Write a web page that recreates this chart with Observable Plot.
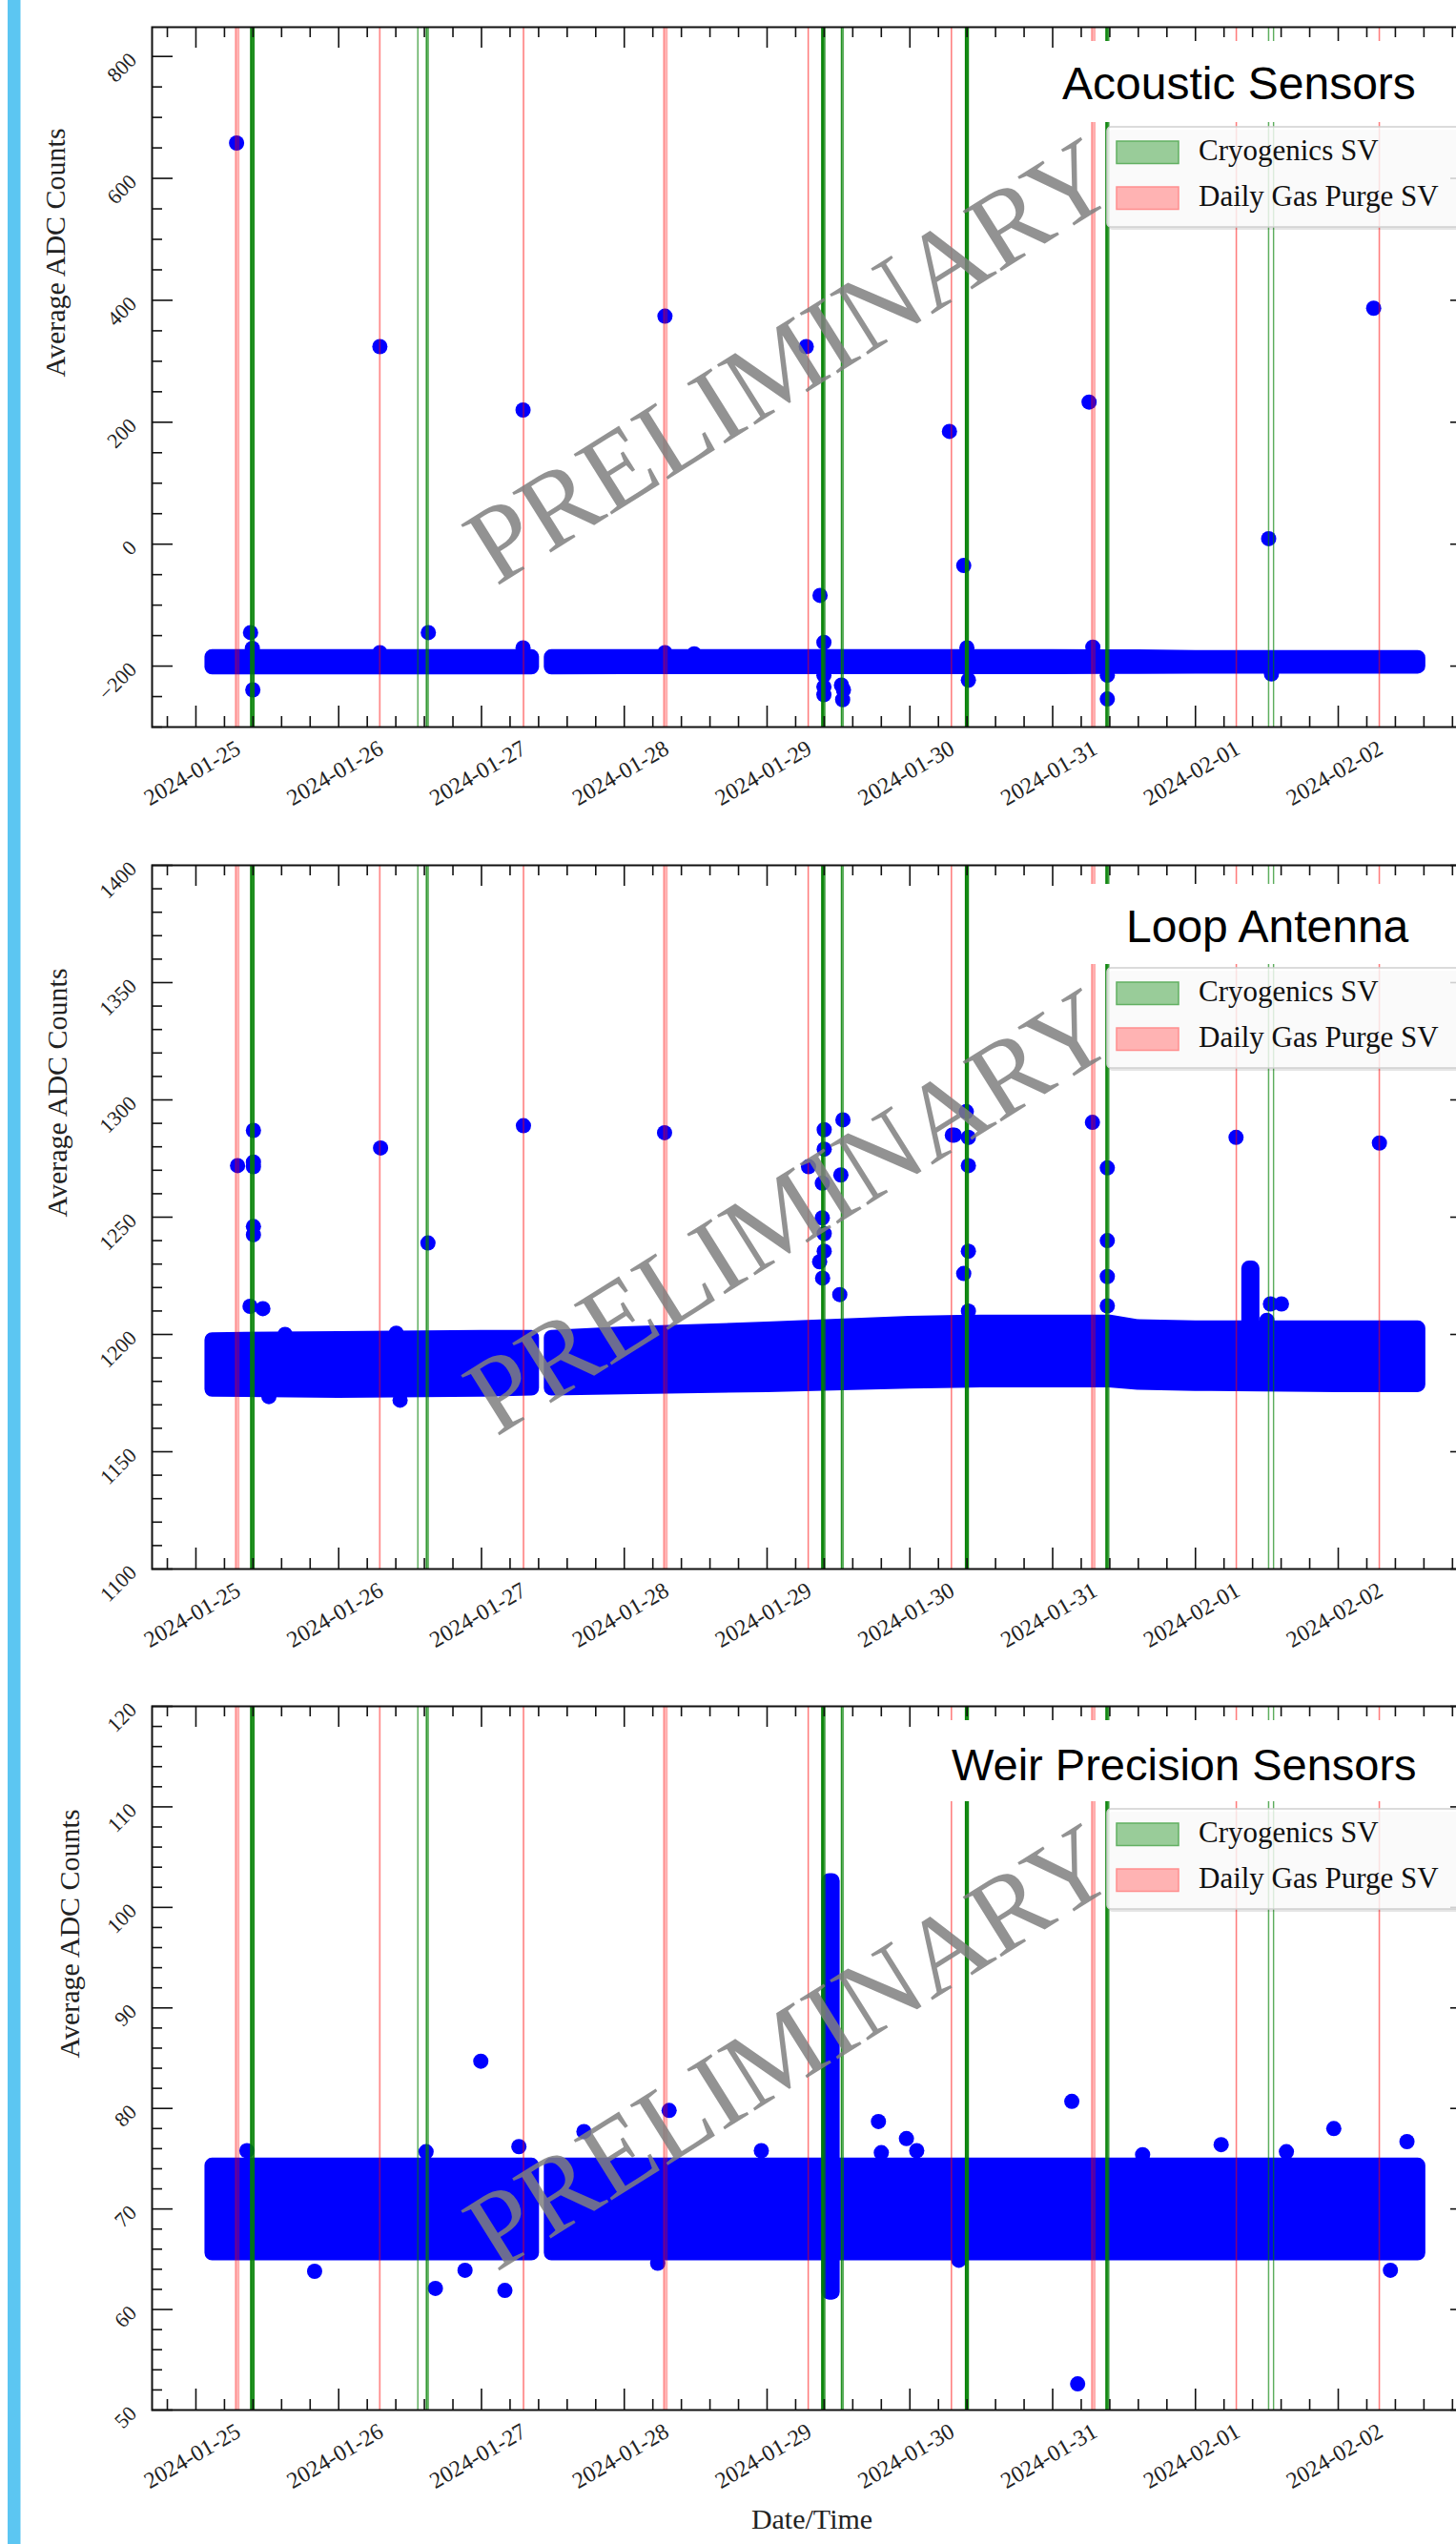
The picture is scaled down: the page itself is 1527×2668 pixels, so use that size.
<!DOCTYPE html>
<html><head><meta charset="utf-8">
<script src="https://cdn.jsdelivr.net/npm/d3@7"></script>
<script src="https://cdn.jsdelivr.net/npm/@observablehq/plot@0.6"></script>
<style>
body{margin:0;background:#fff}
#page{position:relative;width:1527px;height:2668px;overflow:hidden;background:#fff}
.panel{position:absolute;left:0;width:1527px;overflow:hidden}
#overlay{position:absolute;left:0;top:0;pointer-events:none}
</style></head><body><div id="page"></div>
<script>
// ================= DATA =================
const dayTicks = ["2024-01-25","2024-01-26","2024-01-27","2024-01-28","2024-01-29","2024-01-30","2024-01-31","2024-02-01","2024-02-02"];
const xDomainText = ["2024-01-24T16:38","2024-02-02T22:26"];

// Daily Gas Purge SV windows
const purgeStart = ["2024-01-25T06:40","2024-01-26T06:52","2024-01-27T07:02","2024-01-28T06:38","2024-01-29T06:53","2024-01-30T06:57","2024-01-31T06:34","2024-02-01T06:50","2024-02-02T06:52"];
const purgeEnd   = ["2024-01-25T07:14","2024-01-26T06:58","2024-01-27T07:08","2024-01-28T07:12","2024-01-29T06:59","2024-01-30T07:03","2024-01-31T07:08","2024-02-01T06:56","2024-02-02T06:58"];

// Cryogenics SV windows (count = stacked valve actuations)
const cryoStart = ["2024-01-25T09:13","2024-01-26T13:17","2024-01-26T14:44","2024-01-29T09:12","2024-01-29T12:29","2024-01-30T09:20","2024-01-31T08:58","2024-02-01T12:16","2024-02-01T13:06"];
const cryoEnd   = ["2024-01-25T09:47","2024-01-26T13:21","2024-01-26T15:04","2024-01-29T09:42","2024-01-29T12:49","2024-01-30T09:50","2024-01-31T09:26","2024-02-01T12:20","2024-02-01T13:10"];
const cryoCount = [4,1,2,5,2,5,4,1,1];

// Dense readings: envelope of the continuous band (segment A / B around the data gap)
const bandTimes = ["2024-01-25T02:48","2024-01-26T00:00","2024-01-27T00:00","2024-01-27T08:28","2024-01-27T11:50","2024-01-28T00:00","2024-01-29T00:00","2024-01-30T00:00","2024-01-30T12:00","2024-01-31T00:00","2024-01-31T09:36","2024-01-31T14:24","2024-02-01T00:00","2024-02-02T00:00","2024-02-02T13:26"];
const bandSeg   = ["A","A","A","A","B","B","B","B","B","B","B","B","B","B","B"];
const acousticLow  = [-202,-202,-202,-202,-202,-201.5,-201.5,-201.5,-201.5,-201.5,-201,-201,-200.5,-200.5,-200.5];
const acousticHigh = [-185.5,-185.5,-185.5,-185.5,-185.5,-185.5,-185.5,-185.5,-185.5,-185.5,-186,-186,-187,-187,-187];
const loopLow  = [1176.5,1176,1176.5,1177,1177,1177.5,1178.5,1180,1180.5,1180.5,1180.5,1179.5,1179,1178.5,1178.5];
const loopHigh = [1197.5,1198,1198.5,1198.5,1198.5,1200,1202,1204.5,1205,1205,1205,1203,1202.5,1202.5,1202.5];
const weirLow  = [65.6,65.6,65.6,65.6,65.6,65.6,65.6,65.6,65.6,65.6,65.6,65.6,65.6,65.6,65.6];
const weirHigh = [74.3,74.3,74.3,74.3,74.3,74.3,74.3,74.3,74.3,74.3,74.3,74.3,74.3,74.3,74.3];

// Dense bursts
const loopBurstTimes = ["2024-02-01T09:04","2024-02-01T09:33"];
const loopBurstLow = [1204,1204];
const loopBurstHigh = [1228,1228];
const weirBurstTimes = ["2024-01-29T10:30","2024-01-29T11:00"];
const weirBurstLow = [61.7,61.7];
const weirBurstHigh = [102.6,102.6];

// Isolated readings
const acousticTimes = ["2024-01-25T06:50","2024-01-25T09:11","2024-01-25T09:29","2024-01-25T09:34","2024-01-26T06:55","2024-01-26T06:55","2024-01-26T15:04","2024-01-27T06:59","2024-01-27T06:59","2024-01-28T06:50","2024-01-28T06:50","2024-01-28T11:45","2024-01-29T06:35","2024-01-29T08:54","2024-01-29T09:33","2024-01-29T09:33","2024-01-29T09:33","2024-01-29T09:33","2024-01-29T12:30","2024-01-29T12:50","2024-01-29T12:42","2024-01-30T06:39","2024-01-30T09:03","2024-01-30T09:35","2024-01-30T09:50","2024-01-31T06:07","2024-01-31T06:45","2024-01-31T09:11","2024-01-31T09:11","2024-02-01T12:18","2024-02-01T12:46","2024-02-02T05:57"];
const acousticValues = [658,-145,-171,-239,324,-178,-145,220,-170,374,-178,-180,324,-84,-161,-215,-234,-247,-231,-239,-255,185,-35,-170,-223,233,-169,-254,-215,9,-213,387];

const loopTimes = ["2024-01-25T07:00","2024-01-25T09:40","2024-01-25T09:40","2024-01-25T09:40","2024-01-25T09:40","2024-01-25T09:40","2024-01-25T09:06","2024-01-25T11:15","2024-01-25T12:16","2024-01-25T14:59","2024-01-26T07:02","2024-01-26T09:40","2024-01-26T10:19","2024-01-26T15:00","2024-01-27T07:03","2024-01-28T06:46","2024-01-29T06:58","2024-01-29T09:36","2024-01-29T09:36","2024-01-29T09:17","2024-01-29T09:17","2024-01-29T09:36","2024-01-29T09:36","2024-01-29T08:50","2024-01-29T09:20","2024-01-29T12:45","2024-01-29T12:24","2024-01-29T12:13","2024-01-30T07:08","2024-01-30T09:29","2024-01-30T07:28","2024-01-30T09:50","2024-01-30T09:50","2024-01-30T09:50","2024-01-30T09:03","2024-01-30T09:50","2024-01-31T06:41","2024-01-31T09:11","2024-01-31T09:11","2024-01-31T09:11","2024-01-31T09:11","2024-02-01T06:49","2024-02-01T12:36","2024-02-01T14:27","2024-02-01T12:00","2024-02-02T06:55"];
const loopValues = [1272,1287,1273.5,1271.5,1246,1242.5,1212,1211,1173.5,1200,1279.5,1200.5,1172,1239,1289,1286,1271.5,1287.3,1279,1264.5,1249.7,1243,1235.5,1231,1224,1291.5,1268,1217,1285,1295,1285,1284,1272,1235.5,1226,1210,1290.4,1271,1240,1224.7,1212.2,1284,1213,1213,1206,1281.6];

const weirTimes = ["2024-01-25T19:57","2024-01-25T08:34","2024-01-26T14:41","2024-01-26T16:15","2024-01-26T21:14","2024-01-26T23:53","2024-01-27T03:56","2024-01-27T06:17","2024-01-27T17:13","2024-01-28T05:37","2024-01-28T07:32","2024-01-28T23:02","2024-01-29T18:43","2024-01-29T19:12","2024-01-29T23:25","2024-01-30T01:09","2024-01-30T08:14","2024-01-31T03:13","2024-01-31T04:12","2024-01-31T15:07","2024-02-01T04:19","2024-02-01T15:17","2024-02-01T23:15","2024-02-02T08:46","2024-02-02T11:33"];
const weirValues = [63.8,75.8,75.7,62.1,63.9,84.7,61.9,76.2,77.7,64.6,79.8,75.8,78.7,75.6,77.0,75.8,64.9,80.7,52.6,75.4,76.4,75.7,78.0,63.9,76.7];

const titles = ["Acoustic Sensors","Loop Antenna","Weir Precision Sensors"];
const legendLabels = ["Cryogenics SV","Daily Gas Purge SV"];
const yLabel = "Average ADC Counts";
const xLabel = "Date/Time";
const watermark = "PRELIMINARY";

// ================= BUILD =================
const T = s => new Date((s.length === 10 ? s + "T00:00" : s) + "Z");
const serif = "'Liberation Serif','Times New Roman',serif";
const sans = "'Liberation Sans',Arial,sans-serif";
const xDomain = xDomainText.map(T);
const days = dayTicks.map(T);
const dayMs = 864e5;
const minorX = d3.range(-5, 50).map(k => new Date(T("2024-01-24").getTime() + k * dayMs / 5))
  .filter(d => d >= xDomain[0] && d <= xDomain[1] && (d.getTime() % dayMs) !== 0);

const purge = purgeStart.map((s, i) => ({start: T(s), end: T(purgeEnd[i])}));
const cryo = cryoStart.map((s, i) => ({start: T(s), end: T(cryoEnd[i]), op: 1 - Math.pow(0.6, cryoCount[i])}));

function bandRows(lo, hi, burstTimes, burstLo, burstHi) {
  const rows = bandTimes.map((t, i) => ({t: T(t), lo: lo[i], hi: hi[i], seg: bandSeg[i]}));
  if (burstTimes) burstTimes.forEach((t, i) => rows.push({t: T(t), lo: burstLo[i], hi: burstHi[i], seg: "C"}));
  return rows;
}
const pts = (ts, vs) => ts.map((t, i) => ({t: T(t), v: vs[i]}));

const X0 = 159, X1 = 1543;
const fmtNum = d => (d < 0 ? "\u2212" + Math.abs(d) : String(d));
const fmtDate = d3.utcFormat("%Y-%m-%d");

const panels = [
  {top: 0, frameH: 734, mb: 100, yDomain: [-300, 848], major: d3.range(-200, 801, 200), minorStep: 50,
   band: bandRows(acousticLow, acousticHigh), points: pts(acousticTimes, acousticValues), ylabelX: 58, xlabel: false, wmDy: -16},
  {top: 879, frameH: 738, mb: 100, yDomain: [1100, 1400], major: d3.range(1100, 1401, 50), minorStep: 10,
   band: bandRows(loopLow, loopHigh, loopBurstTimes, loopBurstLow, loopBurstHigh), points: pts(loopTimes, loopValues), ylabelX: 60, xlabel: false, wmDy: -5},
  {top: 1761, frameH: 738, mb: 140, yDomain: [50, 120], major: d3.range(50, 121, 10), minorStep: 2,
   band: bandRows(weirLow, weirHigh, weirBurstTimes, weirBurstLow, weirBurstHigh), points: pts(weirTimes, weirValues), ylabelX: 73, xlabel: true, wmDy: -11}
];

const page = document.getElementById("page");
panels.forEach(p => {
  const H = p.frameH, W = X1 - X0;
  const [y0, y1] = p.yDomain;
  const minorY = d3.range(Math.ceil(y0 / p.minorStep) * p.minorStep, y1 + 1e-9, p.minorStep)
    .filter(v => !p.major.some(m => Math.abs(m - v) < 1e-9));
  const tk = {stroke: "#111", strokeWidth: 1.6};
  const marks = [
    Plot.areaY(p.band, {x: "t", y1: "lo", y2: "hi", z: "seg", fill: "#0000ff", stroke: "#0000ff", strokeWidth: 16, strokeLinejoin: "round", curve: "linear"}),
    Plot.dot(p.points, {x: "t", y: "v", r: 8, fill: "#0000ff", stroke: null}),
    Plot.rect(purge, {x1: "start", x2: "end", fill: "red", fillOpacity: 0.3}),
    Plot.ruleX(purge, {x: "start", stroke: "red", strokeOpacity: 0.3, strokeWidth: 1.2}),
    Plot.ruleX(purge, {x: "end", stroke: "red", strokeOpacity: 0.3, strokeWidth: 1.2}),
    Plot.rect(cryo, {x1: "start", x2: "end", fill: "green", fillOpacity: "op"}),
    Plot.ruleX(cryo, {x: "start", stroke: "green", strokeOpacity: "op", strokeWidth: 1.2}),
    Plot.ruleX(cryo, {x: "end", stroke: "green", strokeOpacity: "op", strokeWidth: 1.2}),
    Plot.text([watermark], {frameAnchor: "middle", dx: -23, dy: p.wmDy, rotate: -32, fontSize: 114, fontFamily: serif, fill: "#7f7f7f", fillOpacity: 0.85}),
    Plot.frame({stroke: "#111", strokeWidth: 2}),
    // x ticks (inward, bottom and top)
    Plot.ruleX(days, {x: d => d, insetTop: H - 22, ...tk}),
    Plot.ruleX(days, {x: d => d, insetBottom: H - 22, ...tk}),
    Plot.ruleX(minorX, {x: d => d, insetTop: H - 11, ...tk}),
    Plot.ruleX(minorX, {x: d => d, insetBottom: H - 11, ...tk}),
    // y ticks (inward, left and right)
    Plot.ruleY(p.major, {y: d => d, insetRight: W - 22, ...tk}),
    Plot.ruleY(p.major, {y: d => d, insetLeft: W - 22, ...tk}),
    Plot.ruleY(minorY, {y: d => d, insetRight: W - 11, ...tk}),
    Plot.ruleY(minorY, {y: d => d, insetLeft: W - 11, ...tk}),
    // tick labels
    Plot.text(days, {x: d => d, text: d => fmtDate(d), frameAnchor: "bottom", dy: 55, rotate: -30, fontSize: 24, fontFamily: serif, fill: "#222"}),
    Plot.text(p.major, {y: d => d, text: d => fmtNum(d), frameAnchor: "left", dx: -20, textAnchor: "end", rotate: -45, fontSize: 22, fontFamily: serif, fill: "#222"}),
    Plot.text([yLabel], {frameAnchor: "left", dx: p.ylabelX - X0, rotate: -90, fontSize: 30, fontFamily: serif, fill: "#222"})
  ];
  if (p.xlabel) marks.push(Plot.text([xLabel], {frameAnchor: "bottom", dy: 124, fontSize: 30, fontFamily: serif, fill: "#222"}));
  const svg = Plot.plot({
    width: X1, height: 28 + H + p.mb,
    marginLeft: X0, marginRight: 0, marginTop: 28, marginBottom: p.mb,
    style: {maxWidth: "none", background: "transparent", fontFamily: serif, overflow: "visible"},
    x: {type: "utc", domain: xDomain, axis: null},
    y: {domain: p.yDomain, axis: null},
    marks
  });
  const div = document.createElement("div");
  div.className = "panel";
  div.style.top = p.top + "px";
  div.style.height = (28 + H + p.mb) + "px";
  div.appendChild(svg);
  page.appendChild(div);
});

// overlay: side bar, pasted titles and legends
const titleBoxes = [
  {x: 1105, y: 43, h: 85, tx: 1114, ty: 104, fs: 48},
  {x: 1135, y: 927, h: 84, tx: 1181, ty: 988, fs: 48},
  {x: 988, y: 1804, h: 85, tx: 998, ty: 1867, fs: 47}
];
const legendTops = [133, 1015, 1897];
let o = `<svg id="overlay" width="1527" height="2668" xmlns="http://www.w3.org/2000/svg">`;
o += `<rect x="8" y="0" width="13.5" height="2668" fill="#5cc6f2"/>`;
titleBoxes.forEach((b, i) => {
  o += `<rect x="${b.x}" y="${b.y}" width="${1527 - b.x}" height="${b.h}" fill="#fff"/>`;
  o += `<text x="${b.tx}" y="${b.ty}" font-family="Liberation Sans, Arial, sans-serif" font-size="${b.fs}" fill="#000">${titles[i]}</text>`;
});
legendTops.forEach(t => {
  o += `<rect x="1163" y="${t + 3}" width="400" height="105" rx="4" fill="#000" fill-opacity="0.1"/>`;
  o += `<rect x="1161" y="${t}" width="400" height="105" rx="4" fill="#fff" fill-opacity="0.8" stroke="#cfcfcf" stroke-width="1.5"/>`;
  o += `<rect x="1171" y="${t + 15}" width="65" height="23.5" fill="#99cc99" stroke="#62b062" stroke-width="1.5"/>`;
  o += `<rect x="1171" y="${t + 63}" width="65" height="23.5" fill="#ffb3b3" stroke="#ff8f8f" stroke-width="1.5"/>`;
  o += `<text x="1257" y="${t + 35}" font-family="Liberation Serif, Times New Roman, serif" font-size="31" fill="#111">${legendLabels[0]}</text>`;
  o += `<text x="1257" y="${t + 83}" font-family="Liberation Serif, Times New Roman, serif" font-size="31" fill="#111">${legendLabels[1]}</text>`;
});
o += `</svg>`;
page.insertAdjacentHTML("beforeend", o);
</script></body></html>
